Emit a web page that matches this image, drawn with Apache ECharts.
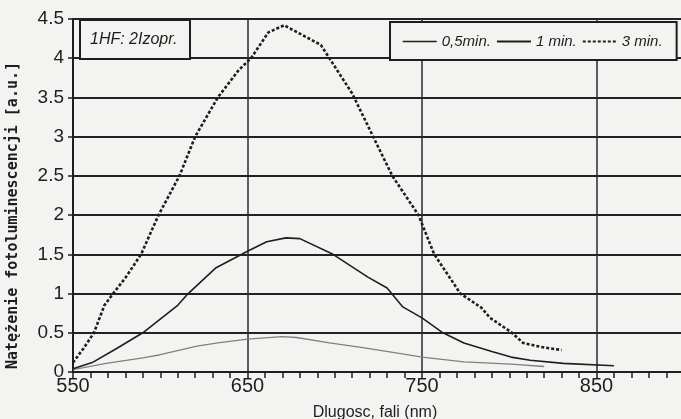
<!DOCTYPE html>
<html><head><meta charset="utf-8">
<script src="https://cdn.jsdelivr.net/npm/echarts@6/dist/echarts.min.js"></script>
<style>html,body{margin:0;padding:0;background:#f3f3f1}#c{width:681px;height:419px}</style>
</head><body><div id="c"></div>
<script>
// 0.5 min (thin grey)
const wl05  = [550, 569, 590, 600, 621, 633, 650, 670, 678, 697, 716, 736, 750, 774, 801, 820];
const val05 = [0.03, 0.11, 0.18, 0.22, 0.33, 0.37, 0.42, 0.45, 0.44, 0.37, 0.31, 0.24, 0.19, 0.13, 0.10, 0.07];
// 1 min (solid)
const wl1  = [550, 561, 575, 590, 610, 616, 632, 650, 661, 672, 680, 699, 719, 730, 739, 750, 762, 774, 790, 801, 812, 831, 860];
const val1 = [0.04, 0.12, 0.30, 0.50, 0.85, 1.00, 1.33, 1.54, 1.66, 1.71, 1.70, 1.50, 1.21, 1.07, 0.83, 0.69, 0.50, 0.37, 0.26, 0.19, 0.15, 0.11, 0.08];
// 3 min (dotted)
const wl3  = [550, 556, 562, 568, 573, 580, 589, 599, 611, 620, 633, 645, 652, 662, 671, 692, 710, 722, 733, 748, 757, 772, 784, 789, 801, 808, 818, 830];
const val3 = [0.12, 0.30, 0.50, 0.85, 1.00, 1.20, 1.50, 2.00, 2.50, 3.00, 3.50, 3.85, 4.00, 4.33, 4.42, 4.17, 3.55, 3.00, 2.50, 2.00, 1.50, 1.00, 0.82, 0.69, 0.51, 0.37, 0.32, 0.28];

const seriesNames = ['0,5min.', '1 min.', '3 min.'];
const xTickLabels = [550, 650, 750, 850];
const yTickLabels = ['0', '0.5', '1', '1.5', '2', '2.5', '3', '3.5', '4', '4.5'];
const boxLabel = '1HF: 2Izopr.';
const xTitle = 'Dlugosc, fali (nm)';
const yTitle = 'Natężenie fotoluminescencji [a.u.]';

const pairs = (xs, ys) => xs.map((x, i) => [x, ys[i]]);
const bg = '#f3f3f1';
const ink = '#1e1e1e';
const clear = 'rgba(0,0,0,0)';

const chart = echarts.init(document.getElementById('c'), null, {renderer: 'canvas'});
chart.setOption({
  backgroundColor: bg,
  animation: false,
  title: {
    text: boxLabel, left: 80, top: 20,
    borderColor: ink, borderWidth: 2, backgroundColor: bg,
    padding: [12, 13, 11, 10],
    textStyle: {fontFamily: 'Liberation Sans', fontStyle: 'italic', fontWeight: 'normal', fontSize: 16, color: ink}
  },
  legend: {
    orient: 'horizontal',
    left: 390, top: 22, width: 268,
    data: [
      {name: seriesNames[0], lineStyle: {color: ink, width: 1.5, type: 'solid'}},
      {name: seriesNames[1]},
      {name: seriesNames[2]}
    ],
    borderColor: ink, borderWidth: 2, backgroundColor: bg,
    padding: [12, 14, 11, 12],
    itemWidth: 34, itemHeight: 2, itemGap: 5,
    itemStyle: {color: clear, borderColor: clear, borderWidth: 0},
    textStyle: {fontFamily: 'Liberation Sans', fontStyle: 'italic', fontSize: 15, color: ink}
  },
  grid: {left: 73, top: 19, bottom: 47, width: 698, outerBoundsMode: 'none'},
  xAxis: {
    type: 'value', min: 550, max: 950, interval: 100,
    name: xTitle, nameLocation: 'middle', nameGap: 33,
    nameTextStyle: {fontFamily: 'Liberation Sans', fontSize: 16, color: ink, padding: [0, 94, 0, 0]},
    axisLine: {onZero: false, lineStyle: {color: ink, width: 2}},
    axisTick: {show: true, inside: false, length: 6, lineStyle: {color: ink, width: 1.5}},
    minorTick: {show: true, splitNumber: 10, length: 6, lineStyle: {color: ink, width: 1.5}},
    axisLabel: {fontFamily: 'Liberation Sans', fontSize: 20, color: ink, margin: 4,
      formatter: v => xTickLabels.includes(v) ? String(v) : ''},
    splitLine: {show: true, lineStyle: {color: '#2a2a2a', width: 1.5}}
  },
  yAxis: {
    type: 'value', min: 0, max: 4.5, interval: 0.5,
    name: yTitle, nameLocation: 'middle', nameGap: 52, nameRotate: 90,
    nameTextStyle: {fontFamily: 'DejaVu Sans Mono', fontWeight: 'bold', fontSize: 15, color: ink, padding: [0, 40, 0, 0]},
    axisLine: {show: true, lineStyle: {color: ink, width: 2}},
    axisTick: {show: true, length: 5, lineStyle: {color: ink, width: 1.5}},
    axisLabel: {fontFamily: 'Liberation Sans', fontSize: 19, color: ink, margin: 9,
      formatter: v => yTickLabels[Math.round(v * 2)] ?? ''},
    splitLine: {show: true, lineStyle: {color: '#222', width: 2}}
  },
  series: [
    {name: seriesNames[0], type: 'line', symbol: 'none', data: pairs(wl05, val05),
      lineStyle: {color: '#808080', width: 1.3}, itemStyle: {color: '#808080'}},
    {name: seriesNames[1], type: 'line', symbol: 'none', data: pairs(wl1, val1),
      lineStyle: {color: ink, width: 1.6}, itemStyle: {color: ink}},
    {name: seriesNames[2], type: 'line', symbol: 'none', data: pairs(wl3, val3),
      lineStyle: {color: ink, width: 2.6, type: [3, 2]}, itemStyle: {color: ink}}
  ]
});
</script></body></html>
